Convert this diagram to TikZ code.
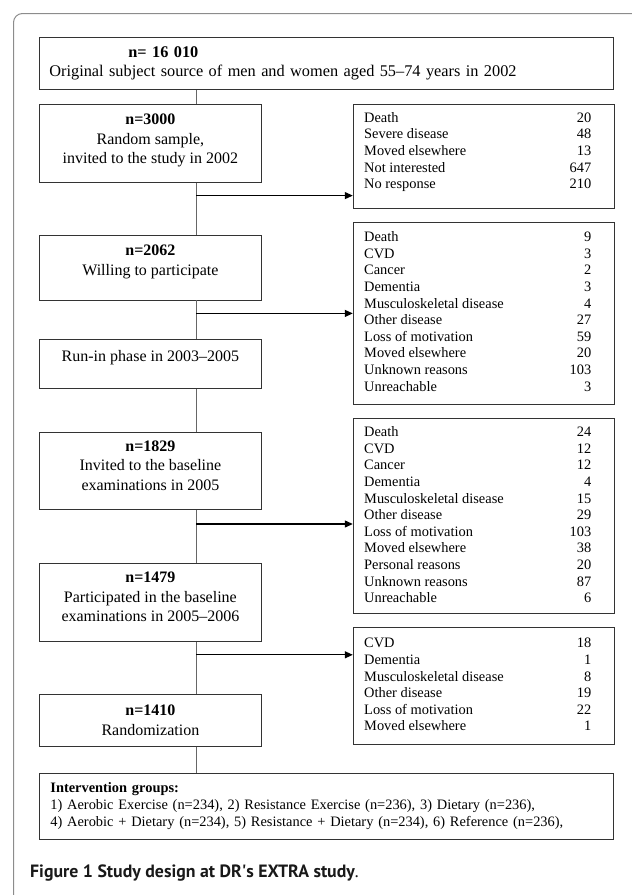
\documentclass[tikz,border=0pt]{standalone}
\usepackage{fontspec}
\setmainfont{Liberation Serif}
\newfontfamily\capfont{PT Sans}
\usepackage{tikz}
\usetikzlibrary{arrows.meta,positioning,calc}

% extra depth under the last line of a box
\newcommand{\padb}[1]{\rule[-#1]{0pt}{#1}}

\begin{document}
\begin{tikzpicture}[
    x=1pt, y=1pt,
    lbox/.style={rectangle, draw=black!80, line width=0.8pt, inner sep=0pt, align=center, minimum width=222pt, font=\fontsize{16}{19.5}\selectfont},
    wbox/.style={rectangle, draw=black!80, line width=0.8pt, inner ysep=0pt, align=left},
    rbox/.style={rectangle, draw=black!80, line width=0.8pt, inner sep=0pt, minimum width=261pt, font=\fontsize{14.4}{16.6}\selectfont},
    link/.style={draw=black!60, line width=0.8pt},
    arrow/.style={-{Triangle[length=8pt, width=7pt]}, line width=1.2pt}
]
\useasboundingbox (0,0) rectangle (632,-895);

% outer frame
\draw[draw=black!45, line width=1pt, rounded corners=9pt] (632,-13.5) -- (13.5,-13.5) -- (13.5,-895);

% main flow
\node[wbox, inner xsep=10pt, text width=554pt, minimum height=52pt, anchor=north west, font=\fontsize{16.3}{19}\selectfont] (top) at (39,-37)
    {\hspace*{79pt}\textbf{n= 16 010}\\Original subject source of men and women aged 55--74 years in 2002};
\node[lbox, minimum height=78pt, below right=14pt and 0pt of top.south west] (s3000)
    {\textbf{n=3000}\\Random sample,\\invited to the study in 2002\padb{9pt}};
\node[lbox, minimum height=65pt, below=52pt of s3000] (s2062)
    {\textbf{n=2062}\\Willing to participate\padb{15pt}};
\node[lbox, minimum height=49pt, below=39pt of s2062] (runin)
    {Run-in phase in 2003--2005\padb{17pt}};
\node[lbox, minimum height=77pt, below=43pt of runin] (s1829)
    {\textbf{n=1829}\\Invited to the baseline\\examinations in 2005\padb{11pt}};
\node[lbox, minimum height=78pt, below=53pt of s1829] (s1479)
    {\textbf{n=1479}\\Participated in the baseline\\examinations in 2005--2006\padb{11pt}};
\node[lbox, minimum height=52pt, below=52pt of s1479] (s1410)
    {\textbf{n=1410}\\Randomization};
\node[wbox, inner xsep=11pt, text width=552pt, minimum height=66pt, below right=26pt and 0pt of s1410.south west, font=\fontsize{14.4}{17}\selectfont] (groups)
    {\textbf{Intervention groups:}\\
     1) Aerobic Exercise (n=234), 2) Resistance Exercise (n=236), 3) Dietary (n=236),\\
     4) Aerobic + Dietary (n=234), 5) Resistance + Dietary (n=234), 6) Reference (n=236),};

% drop-outs
\node[rbox, minimum height=104pt, below right=0pt and 91pt of s3000.north east] (out1)
    {\begin{tabular*}{239pt}{@{}l@{\extracolsep{\fill}}r@{\hspace{12pt}}}
     Death & 20\\
     Severe disease & 48\\
     Moved elsewhere & 13\\
     Not interested & 647\\
     No response & 210\padb{13pt}
     \end{tabular*}};
\node[rbox, minimum height=182pt, below=13pt of out1] (out2)
    {\begin{tabular*}{239pt}{@{}l@{\extracolsep{\fill}}r@{\hspace{12pt}}}
     Death & 9\\
     CVD & 3\\
     Cancer & 2\\
     Dementia & 3\\
     Musculoskeletal disease & 4\\
     Other disease & 27\\
     Loss of motivation & 59\\
     Moved elsewhere & 20\\
     Unknown reasons & 103\\
     Unreachable & 3
     \end{tabular*}};
\node[rbox, minimum height=195pt, below=14pt of out2] (out3)
    {\begin{tabular*}{239pt}{@{}l@{\extracolsep{\fill}}r@{\hspace{12pt}}}
     Death & 24\\
     CVD & 12\\
     Cancer & 12\\
     Dementia & 4\\
     Musculoskeletal disease & 15\\
     Other disease & 29\\
     Loss of motivation & 103\\
     Moved elsewhere & 38\\
     Personal reasons & 20\\
     Unknown reasons & 87\\
     Unreachable & 6
     \end{tabular*}};
\node[rbox, minimum height=117pt, below=13pt of out3] (out4)
    {\begin{tabular*}{239pt}{@{}l@{\extracolsep{\fill}}r@{\hspace{12pt}}}
     CVD & 18\\
     Dementia & 1\\
     Musculoskeletal disease & 8\\
     Other disease & 19\\
     Loss of motivation & 22\\
     Moved elsewhere & 1
     \end{tabular*}};

% spine and branch points
\coordinate (spine) at (196,0);
\coordinate (b1) at ($(s3000.south -| spine)+(0,-13)$);
\coordinate (b2) at ($(s2062.south -| spine)+(0,-13)$);
\coordinate (b3) at ($(s1829.south -| spine)+(0,-14)$);
\coordinate (b4) at ($(s1479.south -| spine)+(0,-13)$);

\draw[link] (top.south -| spine) -- (s3000.north -| spine);
\draw[link] (s3000.south -| spine) -- (s2062.north -| spine);
\draw[link] (s2062.south -| spine) -- (runin.north -| spine);
\draw[link] (runin.south -| spine) -- (s1829.north -| spine);
\draw[link] (s1829.south -| spine) -- (s1479.north -| spine);
\draw[link] (s1479.south -| spine) -- (s1410.north -| spine);
\draw[link] (s1410.south -| spine) -- (groups.north -| spine);

\draw[arrow] (b1) -- (b1 -| out1.west);
\draw[arrow] (b2) -- (b2 -| out2.west);
\draw[arrow] (b3) -- (b3 -| out3.west);
\draw[arrow] (b4) -- (b4 -| out4.west);

% caption
\node[anchor=base west, inner sep=0pt, text=black!90, font=\capfont\bfseries\fontsize{17.8}{20}\selectfont] (caption) at (30,-877)
    {Figure 1 Study design at DR\textquotesingle s EXTRA study\textmd{.}};
\end{tikzpicture}
\end{document}
